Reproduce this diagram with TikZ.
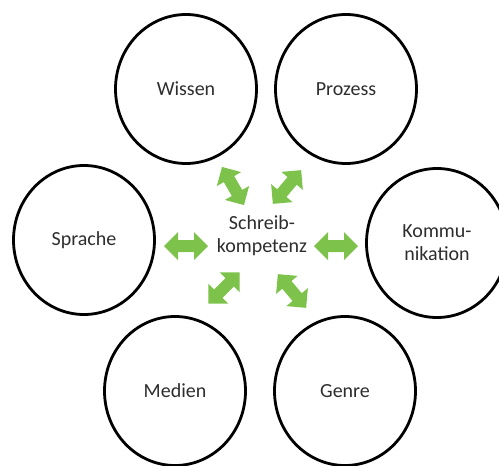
\documentclass[tikz,border=0pt]{standalone}
\usepackage{fontspec}
\setmainfont{Carlito}
\usetikzlibrary{shapes.geometric}
\definecolor{agreen}{RGB}{125,195,75}
\definecolor{txt}{RGB}{45,45,45}
\tikzset{
  topic/.style={draw=black, line width=2.8pt, ellipse, minimum width=141pt, minimum height=149pt, inner sep=0pt, text=txt, font=\fontsize{20}{23}\selectfont, align=center},
  center/.style={text=txt, font=\fontsize{20}{23}\selectfont, align=center, inner sep=0pt},
  dblarrow/.pic={\fill[agreen] (-22,0) -- (-8,-14) -- (-8,-6) -- (8,-6) -- (8,-14) -- (22,0) -- (8,14) -- (8,6) -- (-8,6) -- (-8,14) -- cycle;}
}
\begin{document}
\begin{tikzpicture}[x=1pt, y=-1pt]
\useasboundingbox (0,0) rectangle (499,466);
\node[topic] (wissen) at (186,89) {Wissen};
\node[topic] (prozess) at (346,89) {Prozess};
\node[topic] (sprache) at (84,240) {Sprache};
\node[topic] (komm) at (437,243) {Kommu-\\nikation};
\node[topic] (medien) at (175,391) {Medien};
\node[topic] (genre) at (345,391) {Genre};
\node[center] (sk) at (262,236) {Schreib-\\kompetenz};
\pic[rotate=-60] (a1) at (233,186) {dblarrow};
\pic[rotate=50] (a2) at (287,187) {dblarrow};
\pic (a3) at (186,246) {dblarrow};
\pic (a4) at (336,246) {dblarrow};
\pic[rotate=45] (a5) at (224,288) {dblarrow};
\pic[rotate=-50] (a6) at (292,291) {dblarrow};
\end{tikzpicture}
\end{document}
